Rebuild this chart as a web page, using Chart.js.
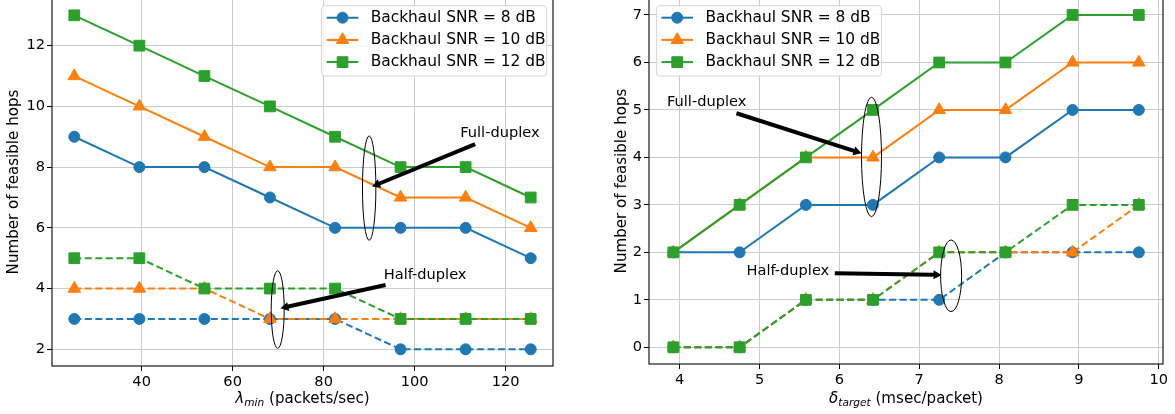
<!DOCTYPE html>
<html>
<head>
<meta charset="utf-8">
<script src="https://cdn.jsdelivr.net/npm/chart.js@4.4.1/dist/chart.umd.min.js"></script>
<style>
  html, body { margin: 0; padding: 0; background: #fff; overflow: hidden; }
  body { width: 1175px; height: 414px; position: relative; }
  #left { position: absolute; left: 0; top: -2px; }
  #right { position: absolute; left: 580px; top: -2px; }
</style>
</head>
<body>
<canvas id="left" width="580" height="416"></canvas>
<canvas id="right" width="595" height="416"></canvas>
<script>
// series labels / styles
const snrLabels = ['Backhaul SNR = 8 dB', 'Backhaul SNR = 10 dB', 'Backhaul SNR = 12 dB'];
const colors = ['#1f77b4', '#ff7f0e', '#2ca02c'];
const markers = ['circle', 'triangle', 'rect'];
const markerRadius = [5.5, 7.2, 7.6];

// left panel: hops vs lambda_min
const lambdaMin = [25.2, 39.5, 53.8, 68.2, 82.5, 96.9, 111.2, 125.5];
const lambdaFull8 = [9, 8, 8, 7, 6, 6, 6, 5];
const lambdaFull10 = [11, 10, 9, 8, 8, 7, 7, 6];
const lambdaFull12 = [13, 12, 11, 10, 9, 8, 8, 7];
const lambdaHalf8 = [3, 3, 3, 3, 3, 2, 2, 2];
const lambdaHalf10 = [4, 4, 4, 3, 3, 3, 3, 3];
const lambdaHalf12 = [5, 5, 4, 4, 4, 3, 3, 3];
const lambdaTicks = [40, 60, 80, 100, 120];
const lambdaHopTicks = [2, 4, 6, 8, 10, 12];

// right panel: hops vs delta_target
const deltaTarget = [3.92, 4.75, 5.58, 6.42, 7.25, 8.08, 8.92, 9.75];
const deltaFull8 = [2, 2, 3, 3, 4, 4, 5, 5];
const deltaFull10 = [2, 3, 4, 4, 5, 5, 6, 6];
const deltaFull12 = [2, 3, 4, 5, 6, 6, 7, 7];
const deltaHalf8 = [0, 0, 1, 1, 1, 2, 2, 2];
const deltaHalf10 = [0, 0, 1, 1, 2, 2, 2, 3];
const deltaHalf12 = [0, 0, 1, 1, 2, 2, 3, 3];
const deltaTicks = [4, 5, 6, 7, 8, 9, 10];
const deltaHopTicks = [0, 1, 2, 3, 4, 5, 6, 7];

const FS = 14.6;       // ticks, annotations
const FS_LEG = 15.4;   // legend
const FS_TITLE = 15.1; // axis titles
const FONT = '"DejaVu Sans", "Liberation Sans", sans-serif';
const gridColor = '#cbcbcb';

function makeSets(xs, full, half) {
  const sets = [];
  [full, half].forEach((group, g) => {
    group.forEach((ys, i) => {
      sets.push({
        label: snrLabels[i],
        data: xs.map((x, k) => ({ x: x, y: ys[k] })),
        borderColor: colors[i],
        backgroundColor: colors[i],
        borderWidth: 2,
        borderDash: g ? [7, 3.5] : [],
        pointStyle: markers[i],
        pointRadius: markerRadius[i],
        pointBorderWidth: 1,
        pointBackgroundColor: colors[i],
        pointBorderColor: colors[i],
        tension: 0,
        fill: false
      });
    });
  });
  // matplotlib draws later series on top
  sets.forEach((s, k) => { s.order = sets.length - k; });
  return sets;
}

function drawArrow(ctx, x1, y1, x2, y2) {
  const ang = Math.atan2(y2 - y1, x2 - x1);
  const hl = 8, hw = 4.5, sw = 2;
  const bx = x2 - hl * Math.cos(ang), by = y2 - hl * Math.sin(ang);
  const nx = -Math.sin(ang), ny = Math.cos(ang);
  ctx.beginPath();
  ctx.moveTo(x1 + nx * sw, y1 + ny * sw);
  ctx.lineTo(bx + nx * sw, by + ny * sw);
  ctx.lineTo(bx + nx * hw, by + ny * hw);
  ctx.lineTo(x2, y2);
  ctx.lineTo(bx - nx * hw, by - ny * hw);
  ctx.lineTo(bx - nx * sw, by - ny * sw);
  ctx.lineTo(x1 - nx * sw, y1 - ny * sw);
  ctx.closePath();
  ctx.fillStyle = '#000';
  ctx.fill();
}

function drawMarker(ctx, style, r, x, y) {
  Chart.helpers.drawPoint(ctx, { pointStyle: style, radius: r, rotation: 0, borderWidth: 1 }, x, y);
}

function makePlugin(cfg) {
  return {
    id: 'decor',
    afterDraw(chart) {
      const ctx = chart.ctx;
      const a = chart.chartArea;
      const sx = chart.scales.x, sy = chart.scales.y;
      ctx.save();

      // frame
      ctx.strokeStyle = '#1a1a1a';
      ctx.lineWidth = 1.2;
      ctx.strokeRect(a.left, a.top, a.right - a.left, a.bottom - a.top);

      // annotations
      ctx.font = FS + 'px ' + FONT;
      ctx.textBaseline = 'middle';
      ctx.textAlign = 'left';
      cfg.notes.forEach(n => {
        ctx.fillStyle = '#000';
        ctx.fillText(n.text, sx.getPixelForValue(n.tx), sy.getPixelForValue(n.ty));
        drawArrow(ctx, sx.getPixelForValue(n.ax), sy.getPixelForValue(n.ay),
                  sx.getPixelForValue(n.hx), sy.getPixelForValue(n.hy));
        ctx.beginPath();
        ctx.ellipse(sx.getPixelForValue(n.ex), sy.getPixelForValue(n.ey), n.rx, n.ry, 0, 0, Math.PI * 2);
        ctx.strokeStyle = '#000';
        ctx.lineWidth = 1;
        ctx.stroke();
      });

      // legend
      const lw = 225, lh = 70.3;
      const lx = cfg.legendRight ? a.right - 6.3 - lw : a.left + 7.4;
      const ly = 7.7;
      ctx.beginPath();
      ctx.roundRect(lx, ly, lw, lh, 3);
      ctx.fillStyle = 'rgba(255,255,255,0.85)';
      ctx.fill();
      ctx.strokeStyle = '#d6d6d6';
      ctx.lineWidth = 1;
      ctx.stroke();
      snrLabels.forEach((lab, i) => {
        const cy = ly + 12 + i * 22.2;
        ctx.strokeStyle = colors[i];
        ctx.lineWidth = 2;
        ctx.beginPath();
        ctx.moveTo(lx + 5, cy);
        ctx.lineTo(lx + 36.6, cy);
        ctx.stroke();
        ctx.fillStyle = colors[i];
        ctx.strokeStyle = colors[i];
        ctx.lineWidth = 1;
        drawMarker(ctx, markers[i], markerRadius[i], lx + 20.8, cy);
        ctx.fillStyle = '#000';
        ctx.font = FS_LEG + 'px ' + FONT;
        ctx.textBaseline = 'middle';
        ctx.fillText(lab, lx + 49, cy);
      });

      // y title
      ctx.save();
      ctx.translate(cfg.yTitleX, (a.top + a.bottom) / 2);
      ctx.rotate(-Math.PI / 2);
      ctx.textAlign = 'center';
      ctx.textBaseline = 'alphabetic';
      ctx.fillStyle = '#000';
      ctx.font = FS_TITLE + 'px ' + FONT;
      ctx.fillText('Number of feasible hops', 0, 0);
      ctx.restore();

      // x title with subscript
      const parts = [
        { t: cfg.sym, f: 'italic ' + FS_TITLE + 'px ' + FONT, dy: 0 },
        { t: cfg.sub, f: 'italic ' + (FS_TITLE * 0.7).toFixed(1) + 'px ' + FONT, dy: 3 },
        { t: cfg.unit, f: FS_TITLE + 'px ' + FONT, dy: 0 }
      ];
      let total = 0;
      parts.forEach(p => { ctx.font = p.f; p.w = ctx.measureText(p.t).width; total += p.w; });
      let x = (a.left + a.right) / 2 - total / 2;
      ctx.textAlign = 'left';
      ctx.textBaseline = 'alphabetic';
      ctx.fillStyle = '#000';
      parts.forEach(p => {
        ctx.font = p.f;
        ctx.fillText(p.t, x, 405 + p.dy);
        x += p.w;
      });

      ctx.restore();
    }
  };
}

function makeChart(id, cfg) {
  const tickFont = { family: FONT, size: FS };
  return new Chart(document.getElementById(id), {
    type: 'line',
    data: { datasets: makeSets(cfg.xs, cfg.full, cfg.half) },
    options: {
      responsive: false,
      animation: false,
      devicePixelRatio: 1,
      layout: { padding: { left: 0, right: cfg.padRight, top: 0, bottom: 0 }, autoPadding: false },
      plugins: { legend: { display: false }, tooltip: { enabled: false } },
      scales: {
        x: {
          type: 'linear',
          min: cfg.xMin, max: cfg.xMax,
          afterBuildTicks: s => { s.ticks = cfg.xTicks.map(v => ({ value: v })); },
          afterFit: s => { s.height = cfg.xAxisH; s.paddingLeft = 0; s.paddingRight = 0; },
          grid: { color: gridColor, lineWidth: 1, drawTicks: true, tickLength: 5, tickColor: '#000', tickWidth: 1 },
          border: { display: false },
          ticks: { font: tickFont, color: '#000', padding: 2, maxRotation: 0, autoSkip: false }
        },
        y: {
          type: 'linear',
          min: cfg.yMin, max: cfg.yMax,
          afterBuildTicks: s => { s.ticks = cfg.yTicks.map(v => ({ value: v })); },
          afterFit: s => { s.width = cfg.yAxisW; s.paddingTop = 0; s.paddingBottom = 0; },
          grid: { color: gridColor, lineWidth: 1, drawTicks: true, tickLength: 5, tickColor: '#000', tickWidth: 1 },
          border: { display: false },
          ticks: { font: tickFont, color: '#000', padding: 2, autoSkip: false }
        }
      }
    },
    plugins: [makePlugin(cfg)]
  });
}

makeChart('left', {
  xs: lambdaMin,
  full: [lambdaFull8, lambdaFull10, lambdaFull12],
  half: [lambdaHalf8, lambdaHalf10, lambdaHalf12],
  xTicks: lambdaTicks, yTicks: lambdaHopTicks,
  xMin: 20.3, xMax: 130.4, yMin: 1.45, yMax: 13.57,
  yAxisW: 52, xAxisH: 48, padRight: 27,
  legendRight: true, yTitleX: 18,
  sym: 'λ', sub: 'min', unit: ' (packets/sec)',
  notes: [
    { text: 'Full-duplex', tx: 110.0, ty: 9.12, ax: 113.3, ay: 8.76, hx: 90.64, hy: 7.36, ex: 90.0, ey: 7.31, rx: 6.7, ry: 52.2 },
    { text: 'Half-duplex', tx: 93.2, ty: 4.45, ax: 93.6, ay: 4.12, hx: 70.5, hy: 3.35, ex: 69.9, ey: 3.31, rx: 6.5, ry: 38.8 }
  ]
});

makeChart('right', {
  xs: deltaTarget,
  full: [deltaFull8, deltaFull10, deltaFull12],
  half: [deltaHalf8, deltaHalf10, deltaHalf12],
  xTicks: deltaTicks, yTicks: deltaHopTicks,
  xMin: 3.615, xMax: 10.053, yMin: -0.352, yMax: 7.358,
  yAxisW: 69, xAxisH: 50, padRight: 12,
  legendRight: false, yTitleX: 46,
  sym: 'δ', sub: 'target', unit: ' (msec/packet)',
  notes: [
    { text: 'Full-duplex', tx: 3.84, ty: 5.16, ax: 4.71, ay: 4.93, hx: 6.277, hy: 4.087, ex: 6.402, ey: 4.01, rx: 10, ry: 59.7 },
    { text: 'Half-duplex', tx: 4.836, ty: 1.593, ax: 5.942, ay: 1.559, hx: 7.279, hy: 1.523, ex: 7.399, ey: 1.506, rx: 10.5, ry: 35.8 }
  ]
});
</script>
</body>
</html>
